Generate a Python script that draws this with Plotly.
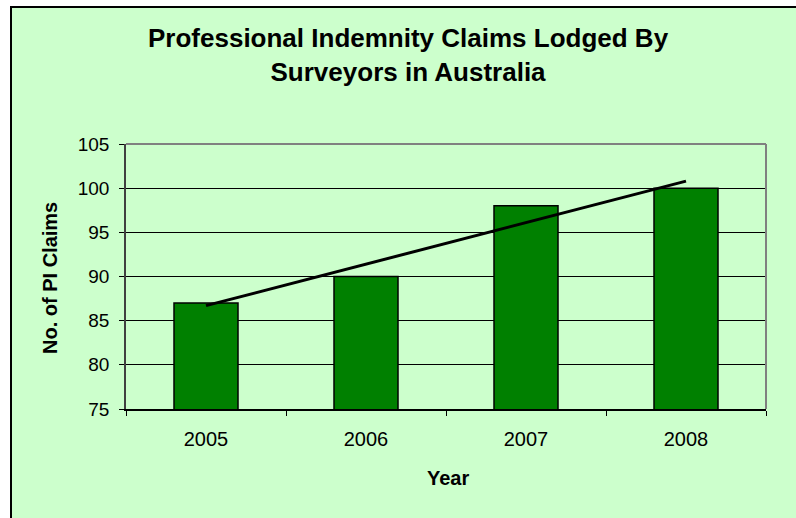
import numpy as np
import plotly.graph_objects as go

years = ["2005", "2006", "2007", "2008"]
claims = [87, 90, 98, 100]
y_ticks = [75, 80, 85, 90, 95, 100, 105]

title_text = "Professional Indemnity Claims Lodged By<br>Surveyors in Australia"
x_title = "Year"
y_title = "No. of PI Claims"

W, H = 796, 518
L, R, T, B = 126, 766, 144, 409  # plot area in pixels


def px(x):
    return (x - L) / (R - L)


def py(y):
    return (B - y) / (B - T)


# linear trendline over categories
idx = np.arange(1, len(claims) + 1)
slope, intercept = np.polyfit(idx, claims, 1)
trend = [intercept + slope * idx[0], intercept + slope * idx[-1]]

FONT = "Liberation Sans, Arial, sans-serif"

fig = go.Figure()
fig.add_trace(go.Bar(
    x=years, y=claims, width=0.4,
    marker=dict(color="#008000", line=dict(color="#000000", width=1.5)),
    hoverinfo="x+y",
))
fig.add_trace(go.Scatter(
    x=[years[0], years[-1]], y=trend, mode="lines",
    line=dict(color="#000000", width=3),
))

fig.update_layout(
    width=W, height=H,
    margin=dict(l=L, r=W - R, t=T, b=H - B, pad=0),
    paper_bgcolor="#CCFFCC",
    plot_bgcolor="#C0C0C0",
    showlegend=False,
    font=dict(family=FONT, color="#000000"),
    xaxis=dict(
        type="category", tickson="boundaries", ticks="outside", ticklen=5,
        tickcolor="#000000", tickwidth=1,
        showline=True, linecolor="#000000", linewidth=1.5,
        showgrid=False, tickfont=dict(size=20, family=FONT),
        ticklabelstandoff=11, range=[-0.5, 3.5],
    ),
    yaxis=dict(
        range=[75, 105], tickvals=y_ticks, ticks="outside", ticklen=5,
        tickcolor="#000000", tickwidth=1,
        showline=True, linecolor="#404040", linewidth=1.5,
        showgrid=True, gridcolor="#000000", gridwidth=1,
        zeroline=False, tickfont=dict(size=19, family=FONT),
        ticklabelstandoff=6,
    ),
    shapes=[
        dict(type="rect", xref="paper", yref="paper", layer="below",
             x0=px(-20), x1=px(830), y0=py(-20), y1=py(560),
             fillcolor="#FFFFFF", line=dict(width=0)),
        dict(type="rect", xref="paper", yref="paper", layer="below",
             x0=px(11), x1=px(830), y0=py(7), y1=py(560),
             fillcolor="#CCFFCC", line=dict(color="#000000", width=2)),
        dict(type="line", xref="paper", yref="paper", layer="above",
             x0=0, x1=1, y0=1, y1=1, line=dict(color="#808080", width=2)),
        dict(type="line", xref="paper", yref="paper", layer="above",
             x0=1, x1=1, y0=0, y1=1, line=dict(color="#808080", width=2)),
    ],
    annotations=[
        dict(text="<b>" + title_text + "</b>", xref="paper", yref="paper",
             x=px(408), y=py(55), xanchor="center", yanchor="middle",
             showarrow=False, font=dict(size=26, family=FONT)),
        dict(text="<b>" + y_title + "</b>", xref="paper", yref="paper",
             x=px(50), y=py(278), xanchor="center", yanchor="middle",
             textangle=-90, showarrow=False, font=dict(size=20, family=FONT)),
        dict(text="<b>" + x_title + "</b>", xref="paper", yref="paper",
             x=px(448), y=py(478), xanchor="center", yanchor="middle",
             showarrow=False, font=dict(size=20, family=FONT)),
    ],
)

fig.write_html(
    "out.html",
    config={"displayModeBar": False},
    post_script=(
        "document.body.style.margin='0';"
        "document.body.style.overflow='hidden';"
        "document.body.style.background='#CCFFCC';"
    ),
)
